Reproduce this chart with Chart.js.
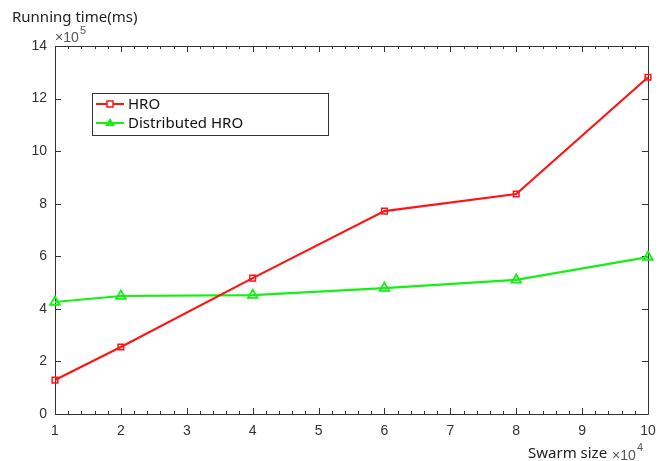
<!DOCTYPE html>
<html>
<head>
<meta charset="utf-8">
<script src="https://cdn.jsdelivr.net/npm/chart.js@4"></script>
<style>
  html, body { margin: 0; padding: 0; background: #fff; }
  #wrap { width: 670px; height: 461px; }
</style>
</head>
<body>
<div id="wrap"><canvas id="timeChart" width="670" height="461"></canvas></div>
<script>
// values (x in 10^4, y in 10^5 ms)
var swarmSizes = [1, 2, 4, 6, 8, 10];
var hroTimes = [1.29, 2.55, 5.17, 7.72, 8.37, 12.81];
var distTimes = [4.26, 4.49, 4.52, 4.79, 5.1, 5.97];
var seriesNames = ['HRO', 'Distributed HRO'];
var yTicks = [0, 2, 4, 6, 8, 10, 12, 14];

function toPoints(xs, ys) {
    return xs.map(function(x, i) { return { x: x, y: ys[i] }; });
}

// box, inward ticks, axis texts and legend
var decorations = {
    id: 'decorations',
    beforeDatasetsDraw: function(chart) {
        var ctx = chart.ctx;
        var a = chart.chartArea;
        var xs = chart.scales.x, ys = chart.scales.y;
        ctx.save();
        ctx.strokeStyle = '#333';
        ctx.lineWidth = 1;
        ctx.beginPath();
        ctx.rect(Math.round(a.left) + 0.5, Math.round(a.top) + 0.5,
                 Math.round(a.right - a.left), Math.round(a.bottom - a.top));
        ctx.stroke();

        ctx.beginPath();
        for (var v = 1; v <= 10.001; v += 0.2) {
            var px = Math.round(xs.getPixelForValue(v)) + 0.5;
            var major = Math.abs(v - Math.round(v)) < 0.01;
            var len = major ? 6 : 3;
            ctx.moveTo(px, a.bottom); ctx.lineTo(px, a.bottom - len);
            ctx.moveTo(px, a.top); ctx.lineTo(px, a.top + len);
        }
        yTicks.forEach(function(t) {
            var py = Math.round(ys.getPixelForValue(t)) + 0.5;
            ctx.moveTo(a.left, py); ctx.lineTo(a.left + 6, py);
            ctx.moveTo(a.right, py); ctx.lineTo(a.right - 6, py);
        });
        ctx.stroke();

        // axis texts
        ctx.fillStyle = '#222';
        ctx.font = '15px "Noto Sans", sans-serif';
        ctx.textBaseline = 'alphabetic';
        ctx.textAlign = 'left';
        ctx.fillText('Running time(ms)', 12, 22);
        ctx.fillText('Swarm size', 528, 458);

        ctx.fillStyle = '#555';
        ctx.font = '14px "Liberation Sans", sans-serif';
        ctx.fillText('\u00d710', 55, 42);
        ctx.font = '11px "Liberation Sans", sans-serif';
        ctx.fillText('5', 80, 34);
        ctx.font = '14px "Liberation Sans", sans-serif';
        ctx.fillText('\u00d710', 612, 460);
        ctx.font = '11px "Liberation Sans", sans-serif';
        ctx.fillText('4', 637, 451);
        ctx.restore();
    },
    afterDatasetsDraw: function(chart) {
        var ctx = chart.ctx;
        ctx.save();
        // legend
        var lx = 92, ly = 93, lw = 236, lh = 42;
        ctx.fillStyle = '#fff';
        ctx.fillRect(lx, ly, lw, lh);
        ctx.strokeStyle = '#333';
        ctx.lineWidth = 1;
        ctx.strokeRect(lx + 0.5, ly + 0.5, lw, lh);
        chart.data.datasets.forEach(function(ds, i) {
            var cy = ly + 11 + i * 19;
            ctx.strokeStyle = ds.borderColor;
            ctx.lineWidth = 2;
            ctx.beginPath();
            ctx.moveTo(lx + 4, cy); ctx.lineTo(lx + 32, cy);
            ctx.stroke();
            ctx.lineWidth = 1.5;
            if (ds.pointStyle === 'rect') {
                ctx.fillStyle = '#fff';
                ctx.fillRect(lx + 15, cy - 3, 6, 6);
                ctx.strokeRect(lx + 15, cy - 3, 6, 6);
            } else {
                ctx.fillStyle = ds.borderColor;
                ctx.beginPath();
                ctx.moveTo(lx + 18, cy - 5);
                ctx.lineTo(lx + 23, cy + 3);
                ctx.lineTo(lx + 13, cy + 3);
                ctx.closePath();
                ctx.fill();
            }
            ctx.fillStyle = '#111';
            ctx.font = '15px "Noto Sans", sans-serif';
            ctx.textBaseline = 'middle';
            ctx.fillText(ds.label, lx + 36, cy + 1);
        });
        ctx.restore();
    }
};

var ctx = document.getElementById('timeChart').getContext('2d');
var timeChart = new Chart(ctx, {
    type: 'scatter',
    data: {
        datasets: [{
            label: seriesNames[0],
            data: toPoints(swarmSizes, hroTimes),
            showLine: true,
            clip: false,
            borderColor: 'rgb(255, 20, 20)',
            backgroundColor: 'rgba(255, 255, 255, 0)',
            borderWidth: 2.2,
            pointStyle: 'rect',
            pointRadius: 4,
            pointBorderWidth: 1.5
        }, {
            label: seriesNames[1],
            data: toPoints(swarmSizes, distTimes),
            showLine: true,
            clip: false,
            borderColor: 'rgb(20, 240, 20)',
            backgroundColor: 'rgba(255, 255, 255, 0)',
            borderWidth: 2.2,
            pointStyle: 'triangle',
            pointRadius: 5.5,
            pointBorderWidth: 1.8
        }]
    },
    options: {
        responsive: false,
        animation: false,
        layout: { padding: { left: 0, top: 46, right: 22, bottom: 0 } },
        plugins: { legend: { display: false }, tooltip: { enabled: false } },
        scales: {
            x: {
                type: 'linear',
                min: 1, max: 10,
                grid: { display: false, drawTicks: false },
                border: { display: false },
                ticks: {
                    stepSize: 1, padding: 9, color: '#333',
                    font: { family: '"Liberation Sans", sans-serif', size: 14 }
                },
                afterFit: function(s) { s.height = 47; }
            },
            y: {
                min: 0, max: 14,
                grid: { display: false, drawTicks: false },
                border: { display: false },
                afterBuildTicks: function(s) { s.ticks = yTicks.map(function(v) { return { value: v }; }); },
                ticks: {
                    padding: 8, color: '#333',
                    font: { family: '"Liberation Sans", sans-serif', size: 14 }
                },
                afterFit: function(s) { s.width = 55; }
            }
        }
    },
    plugins: [decorations]
});
</script>
</body>
</html>
